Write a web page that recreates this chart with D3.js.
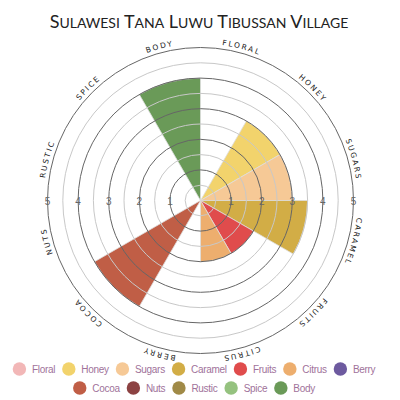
<!DOCTYPE html>
<html>
<head>
<meta charset="utf-8">
<script src="https://cdn.jsdelivr.net/npm/d3@7"></script>
<style>
  body { margin: 0; background: #fff; }
  svg { display: block; }
</style>
</head>
<body>
<div id="chart"></div>
<script>
// Flavour categories, clockwise from the top
var categories = ["Floral", "Honey", "Sugars", "Caramel", "Fruits", "Citrus",
                  "Berry", "Cocoa", "Nuts", "Rustic", "Spice", "Body"];
var scores = [0, 3, 3, 3.5, 2, 2, 0, 4, 0, 0, 0, 4];
var colors = ["#f2b7b7", "#f2d36c", "#f6c996", "#d2ad46", "#e04c4c", "#edae6e",
              "#6d5a9f", "#c05e46", "#8c4242", "#a08a47", "#95c27f", "#6a9a58"];
var tickValues = [1, 2, 3, 4, 5];
var ringValues = [0.5, 1, 1.5, 2, 2.5, 3, 3.5, 4, 4.5, 5];
var title = "Sulawesi Tana Luwu Tibussan Village";

var width = 400, height = 400;
var cx = 200.5, cy = 200.5, outerR = 153;

var svg = d3.select("#chart").append("svg")
    .attr("width", width)
    .attr("height", height);

// Title in small caps (first letter of each word bigger)
var titleText = svg.append("text")
    .attr("x", 199)
    .attr("y", 28)
    .attr("text-anchor", "middle")
    .style("font-family", "Lato, 'Open Sans', sans-serif")
    .style("fill", "#222");
title.split(" ").forEach(function (word, wi) {
    titleText.append("tspan")
        .style("font-size", "18px")
        .text((wi > 0 ? " " : "") + word[0].toUpperCase());
    titleText.append("tspan")
        .style("font-size", "14px")
        .text(word.slice(1).toUpperCase());
});

var g = svg.append("g").attr("transform", "translate(" + cx + "," + cy + ")");

var r = d3.scaleLinear().domain([0, 5]).range([0, outerR]);
var slice = 2 * Math.PI / categories.length;

var arc = d3.arc()
    .innerRadius(0)
    .outerRadius(function (d) { return r(d.value); })
    .startAngle(function (d) { return d.i * slice; })
    .endAngle(function (d) { return (d.i + 1) * slice; });

var wedgeData = categories.map(function (c, i) {
    return { name: c, value: scores[i], color: colors[i], i: i };
});

// Wedges
g.selectAll(".wedge")
    .data(wedgeData.filter(function (d) { return d.value > 0; }))
    .enter()
    .append("path")
    .attr("class", "wedge")
    .attr("d", arc)
    .style("fill", function (d) { return d.color; })
    .style("stroke", "#ddd")
    .style("stroke-width", 0.8);

// Rings drawn over the wedges
g.selectAll(".ring")
    .data(ringValues)
    .enter()
    .append("circle")
    .attr("class", "ring")
    .attr("r", function (d) { return r(d); })
    .style("fill", "none")
    .style("stroke", function (d) { return d % 1 === 0 ? "#666" : "#c8c8c8"; })
    .style("stroke-width", 1);

// Tick labels on both sides of the horizontal axis
[1, -1].forEach(function (side) {
    g.selectAll(".tick" + side)
        .data(tickValues)
        .enter()
        .append("text")
        .attr("x", function (d) { return side * r(d); })
        .attr("y", 4)
        .attr("text-anchor", "middle")
        .style("font-family", "'Liberation Sans', sans-serif")
        .style("font-size", "10px")
        .style("fill", "#666")
        .text(function (d) { return d; });
});

// Curved category labels
var labelR = 157;
g.append("path")
    .attr("id", "labelPath")
    .attr("d", "M0," + (-labelR) + " A" + labelR + "," + labelR + " 0 1,1 0," + labelR +
               " A" + labelR + "," + labelR + " 0 1,1 0," + (-labelR))
    .style("fill", "none");

g.selectAll(".catLabel")
    .data(categories)
    .enter()
    .append("text")
    .attr("class", "catLabel")
    .style("font-family", "'DejaVu Sans', sans-serif")
    .style("font-size", "7.5px")
    .style("letter-spacing", "1.8px")
    .style("fill", "#222")
    .append("textPath")
    .attr("href", "#labelPath")
    .attr("startOffset", function (d, i) { return ((i + 0.5) / categories.length) * 2 * Math.PI * labelR; })
    .attr("text-anchor", "middle")
    .text(function (d) { return d.toUpperCase(); });

// Legend, wrapped into centered rows
var legend = svg.append("g").attr("class", "legend");
var legendMax = 385, legendCenter = 194, rowY = [369, 388];
var dotR = 6.7, textGap = 12.5, itemGap = 7;

var items = wedgeData.map(function (d) {
    var t = legend.append("text")
        .style("font-family", "'Liberation Sans', Arial, sans-serif")
        .style("font-size", "10px")
        .style("letter-spacing", "-0.3px")
        .style("fill", "#a0729a")
        .text(d.name);
    return { d: d, t: t, w: dotR + textGap + t.node().getComputedTextLength() };
});

var rows = [[]], rowW = [0];
items.forEach(function (it) {
    var k = rows.length - 1;
    var add = (rows[k].length ? itemGap : 0) + it.w;
    if (rowW[k] + add > legendMax && rows[k].length) {
        rows.push([it]); rowW.push(it.w);
    } else {
        rows[k].push(it); rowW[k] += add;
    }
});

rows.forEach(function (row, ri) {
    var x = legendCenter - rowW[ri] / 2;
    var y = rowY[ri];
    row.forEach(function (it) {
        legend.append("circle")
            .attr("cx", x + dotR)
            .attr("cy", y)
            .attr("r", dotR)
            .style("fill", it.d.color);
        it.t.attr("x", x + dotR + textGap).attr("y", y + 3.5);
        x += it.w + itemGap;
    });
});
</script>
</body>
</html>
